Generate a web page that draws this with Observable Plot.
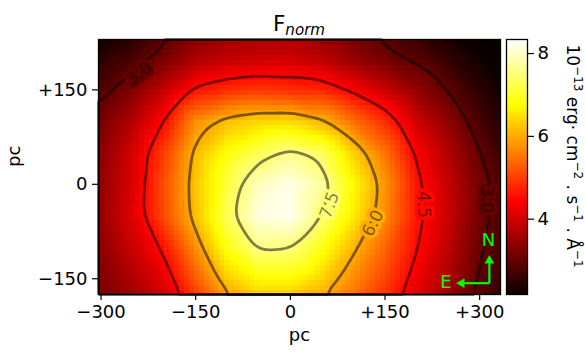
<!DOCTYPE html>
<html><head><meta charset="utf-8">
<script src="https://cdn.jsdelivr.net/npm/d3@7"></script>
<script src="https://cdn.jsdelivr.net/npm/@observablehq/plot@0.6"></script>
<style>
html,body{margin:0;padding:0;background:white;}
#chart{position:relative;width:585px;height:352px;background:white;}
#chart svg{position:absolute;left:0;top:0;}
</style></head><body><div id="chart"></div>
<script>
const xCoords = [-350,-300,-250,-200,-150,-100,-50,0,50,100,150,200,250,300,350];
const yCoords = [250,200,150,100,50,0,-50,-100,-150,-200];
const fluxRows = [
 [1.8,2.05,2.35,2.75,3.15,3.4,3.45,3.5,3.3,3.05,2.75,2.45,2.2,2.0,1.9],
 [2.2,2.5,2.75,3.2,3.65,3.85,3.95,4.0,3.8,3.45,3.15,2.9,2.55,2.25,2.0],
 [2.5,2.85,3.3,3.9,4.6,4.85,4.95,4.85,4.8,4.4,3.95,3.45,2.97,2.5,2.15],
 [2.8,3.2,3.75,4.5,5.75,6.2,6.4,6.45,6.1,5.45,4.85,4.0,3.4,2.75,2.3],
 [3.0,3.4,4.05,5.0,6.15,6.85,7.3,7.65,7.35,6.35,5.5,4.4,3.75,3.0,2.5],
 [3.05,3.45,4.1,5.15,6.25,7.15,7.95,8.2,7.75,6.75,5.8,4.62,3.9,3.18,2.65],
 [3.1,3.5,4.15,5.1,6.2,7.3,8.15,8.25,7.5,6.6,5.7,4.65,3.95,3.15,2.65],
 [3.0,3.4,3.95,4.6,5.75,6.9,7.6,7.55,6.9,6.1,5.35,4.52,3.85,3.05,2.6],
 [2.95,3.3,3.7,4.2,5.25,6.3,6.75,6.75,6.35,5.7,5.05,4.3,3.65,2.93,2.5],
 [2.85,3.15,3.45,3.85,4.7,5.6,5.95,5.9,5.75,5.25,4.7,4.05,3.4,2.8,2.4]
];
const xExtent = [-304, 333];
const yExtent = [-175, 230];
const xTicks = [-300,-150,0,150,300];
const yTicks = [-150,0,150];
const contourLevels = [3.0, 4.5, 6.0, 7.5];
const colorRange = [2.18, 8.34];
const colorbarTicks = [4,6,8];
const contourLabels = [
  {v:3.0, x:-240, y:176, angle:-37},
  {v:3.0, x:310, y:-24, angle:90},
  {v:4.5, x:211, y:-32, angle:90},
  {v:6.0, x:131, y:-62, angle:-62},
  {v:7.5, x:62, y:-33, angle:-70}
];
const compassArms = [
  {x1:315.4, y1:-157, x2:315.4, y2:-125},
  {x1:315.4, y1:-157, x2:275.8, y2:-157}
];
const compassHeads = [
  {x:315.4, y:-121.3, angle:0},
  {x:271.5, y:-157, angle:-90}
];
const compassLabels = [
  {x:314, y:-88.5, t:"N"},
  {x:246.5, y:-156, t:"E"}
];

// matplotlib "hot" colormap
function hot(t){
  t = Math.max(0, Math.min(1, t));
  const r = t < 0.365079 ? 0.0416 + (1-0.0416)*t/0.365079 : 1;
  const g = t < 0.365079 ? 0 : t < 0.746032 ? (t-0.365079)/(0.746032-0.365079) : 1;
  const b = t < 0.746032 ? 0 : (t-0.746032)/(1-0.746032);
  return `rgb(${Math.round(r*255)},${Math.round(g*255)},${Math.round(b*255)})`;
}
const colorScale = {type:"linear", domain: colorRange, interpolate: (t) => hot(t), clamp: true};

const points = yCoords.flatMap((y,i) => xCoords.map((x,j) => ({x, y, v: fluxRows[i][j]})));
const signed = d => d > 0 ? "+" + d : d < 0 ? "\u2212" + (-d) : "0";
const FONT = "DejaVu Sans";

const main = Plot.plot({
  width: 585, height: 352,
  marginLeft: 98, marginRight: 85, marginTop: 39, marginBottom: 58,
  x: {domain: xExtent},
  y: {domain: yExtent},
  color: colorScale,
  style: {fontFamily: FONT, background: "white", color: "black", overflow: "visible"},
  marks: [
    Plot.raster(points, {x:"x", y:"y", fill:"v", interpolate:"barycentric", pixelSize: 5, imageRendering:"pixelated"}),
    Plot.contour(points, {x:"x", y:"y", value:"v", interpolate:"barycentric", thresholds: contourLevels,
      fill:"none", stroke:"black", strokeOpacity:0.5, strokeWidth:2.8, pixelSize:2, blur:3}),
    Plot.text(contourLabels, {x:"x", y:"y", text: d => d.v.toFixed(1), rotate:"angle",
      fill:"black", fillOpacity:0.5, stroke:"v", strokeWidth:7, paintOrder:"stroke", fontSize:17}),
    Plot.link(compassArms, {x1:"x1", y1:"y1", x2:"x2", y2:"y2", stroke:"lime", strokeWidth:2.2}),
    Plot.dot(compassHeads, {x:"x", y:"y", rotate:"angle", symbol:"triangle", r:3.3, fill:"lime", stroke:"lime", strokeWidth:0.5}),
    Plot.text(compassLabels, {x:"x", y:"y", text:"t", fill:"lime", fontSize:18}),
    Plot.frame({stroke:"black", strokeWidth:1.3}),
    Plot.axisX({ticks: xTicks, tickFormat: signed, tickSize: 6, tickPadding: 5, label: null, fontSize: 18, strokeWidth: 1.2}),
    Plot.axisY({ticks: yTicks, tickFormat: signed, tickSize: 6, tickPadding: 5, label: null, fontSize: 18, strokeWidth: 1.2}),
    Plot.text(["pc"], {text: d => d, frameAnchor:"bottom", dy: 46, fontSize: 18}),
    Plot.text(["pc"], {text: d => d, frameAnchor:"left", dx: -84, rotate: -90, fontSize: 18})
  ]
});

const colorbar = Plot.plot({
  width: 585, height: 352,
  marginLeft: 506, marginRight: 58, marginTop: 39, marginBottom: 58,
  x: {domain: [0,1], axis: null},
  y: {domain: colorRange},
  color: colorScale,
  style: {fontFamily: FONT, background: "transparent", color: "black", overflow: "visible"},
  marks: [
    Plot.raster({x1:0, x2:1, y1: colorRange[0], y2: colorRange[1], fill: (x, y) => y, pixelSize: 1}),
    Plot.frame({stroke:"black", strokeWidth:1.3}),
    Plot.axisY({anchor:"right", ticks: colorbarTicks, tickFormat: d => String(d), tickSize: 6, tickPadding: 4, label: null, fontSize: 18, strokeWidth: 1.2})
  ]
});

const chart = document.getElementById("chart");
chart.appendChild(main);
chart.appendChild(colorbar);

// title F_norm
const title = d3.select(main).append("text")
  .attr("x", 299).attr("y", 31).attr("text-anchor", "middle")
  .attr("font-family", FONT).attr("font-size", 21.6).attr("fill", "black");
title.append("tspan").text("F");
title.append("tspan").attr("font-style", "italic").attr("font-size", 15.1).attr("dy", 3.5).text("norm");

// colorbar label
const cbl = d3.select(colorbar).append("text")
  .attr("transform", "translate(567,156) rotate(90)").attr("text-anchor", "middle")
  .attr("font-family", FONT).attr("font-size", 17).attr("fill", "black");
const parts = [["10",0],["\u221213",1],[" erg\u00b7 cm",0],["\u22122",1],[" . s",0],["\u22121",1],[" . \u00c5",0],["\u22121",1]];
let prev = 0;
for (const [s, sup] of parts) {
  const sh = sup ? -7 : 0;
  cbl.append("tspan").attr("dy", sh - prev).attr("font-size", sup ? 12 : 17).text(s);
  prev = sh;
}
</script></body></html>
